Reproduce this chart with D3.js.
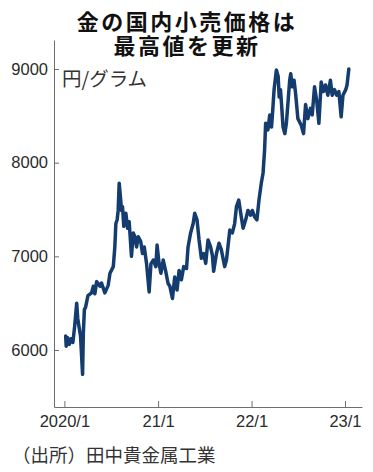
<!DOCTYPE html>
<html>
<head>
<meta charset="utf-8">
<script src="https://cdn.jsdelivr.net/npm/d3@7"></script>
<style>
  body { margin: 0; background: #fff; }
  svg { display: block; }
</style>
</head>
<body>
<svg width="373" height="472"></svg>
<script>
// 金の国内小売価格（円/グラム）
var dates = [
  "2020-01-06","2020-01-08","2020-01-14","2020-01-20","2020-01-27","2020-02-03","2020-02-10","2020-02-18",
  "2020-02-22","2020-02-27","2020-03-04","2020-03-12","2020-03-15","2020-03-19","2020-03-24","2020-04-02",
  "2020-04-16","2020-04-23","2020-04-29","2020-05-06","2020-05-19","2020-05-25","2020-06-07","2020-06-20",
  "2020-06-27","2020-07-10","2020-07-16","2020-07-20","2020-07-25","2020-07-29","2020-08-02","2020-08-08",
  "2020-08-11","2020-08-15","2020-08-20","2020-08-28","2020-09-04","2020-09-10","2020-09-19","2020-09-26",
  "2020-10-02","2020-10-09","2020-10-15","2020-10-25","2020-11-01","2020-11-08","2020-11-17","2020-11-27",
  "2020-12-04","2020-12-13","2020-12-23","2020-12-28","2021-01-05","2021-01-12","2021-01-21","2021-01-30",
  "2021-02-09","2021-02-16","2021-02-26","2021-03-07","2021-03-16","2021-03-24","2021-04-02","2021-04-11",
  "2021-04-22","2021-04-28","2021-05-08","2021-05-18","2021-05-24","2021-06-02","2021-06-10","2021-06-19",
  "2021-06-28","2021-07-06","2021-07-15","2021-07-25","2021-08-01","2021-08-06","2021-08-17","2021-08-27",
  "2021-09-05","2021-09-18","2021-09-25","2021-10-08","2021-10-18","2021-10-27","2021-11-03","2021-11-12",
  "2021-11-22","2021-11-29","2021-12-09","2021-12-18","2021-12-28","2022-01-04","2022-01-13","2022-01-22",
  "2022-01-30","2022-02-08","2022-02-15","2022-02-21","2022-02-25","2022-03-06","2022-03-13","2022-03-20",
  "2022-03-24","2022-03-30","2022-04-08","2022-04-15","2022-04-19","2022-04-24","2022-04-28","2022-05-04",
  "2022-05-11","2022-05-17","2022-05-23","2022-05-30","2022-06-03","2022-06-09","2022-06-16","2022-06-22",
  "2022-07-01","2022-07-14","2022-07-23","2022-07-31","2022-08-09","2022-08-19","2022-08-26","2022-09-04",
  "2022-09-13","2022-09-21","2022-09-30","2022-10-09","2022-10-17","2022-10-26","2022-11-05","2022-11-12",
  "2022-11-21","2022-11-30","2022-12-08","2022-12-17","2022-12-24","2023-01-04","2023-01-09","2023-01-16"
];
var prices = [
  6150,6040,6130,6060,6120,6080,6250,6500,
  6340,6250,6150,5740,6180,6430,6460,6580,
  6610,6680,6600,6730,6680,6715,6610,6690,
  6820,6890,7100,7350,7390,7490,7780,7600,
  7490,7530,7320,7460,7300,7370,7000,7250,
  7210,7100,7210,7160,7030,7100,6920,6620,
  6920,6960,6890,7120,6920,6820,6960,6850,
  6710,6680,6550,6780,6640,6850,6750,6890,
  6870,7100,7250,7350,7460,7390,7175,6980,
  7030,6925,7175,7100,7010,6840,7030,7140,
  7070,6890,6960,7280,7250,7350,7530,7600,
  7420,7300,7390,7490,7440,7490,7420,7390,
  7600,7780,7890,8140,8420,8350,8510,8380,
  8530,8780,8990,8920,8700,8780,8630,8380,
  8310,8420,8630,8880,8950,8810,8880,8740,
  8470,8400,8310,8620,8470,8580,8510,8810,
  8650,8420,8860,8760,8830,8720,8880,8720,
  8780,8720,8760,8490,8720,8780,8830,9000
];
var yTicks = [6000, 7000, 8000, 9000];
var xTicks = ["2020-01-01", "2021-01-01", "2022-01-01", "2023-01-01"];
var xTickLabels = ["2020/1", "21/1", "22/1", "23/1"];
var titleLines = ["金の国内小売価格は", "最高値を更新"];

var parse = d3.timeParse("%Y-%m-%d");
var data = dates.map(function(d, i) { return { date: parse(d), value: prices[i] }; });

var svg = d3.select("svg");

// x: 2020/1 tick at 64.4, 23/1 tick at 345, axis spans 54..362
var x = d3.scaleTime()
    .domain([parse(xTicks[0]), parse(xTicks[3])])
    .range([64.4, 345]);
x.domain([x.invert(54), x.invert(362)]).range([54, 362]);

// y: 9000 at 69, 6000 at 350, axis spans 40..407
var y = d3.scaleLinear()
    .domain([6000, 9000])
    .range([350, 69]);
y.domain([y.invert(407), y.invert(40)]).range([407, 40]);

var font = "'Liberation Sans', Arial, sans-serif";
var cjk = "'Noto Sans CJK JP', 'Noto Sans', sans-serif";

var gx = svg.append("g")
    .attr("transform", "translate(0,407)")
    .call(d3.axisBottom(x)
      .tickValues(xTicks.map(parse))
      .tickFormat(function(d, i) { return xTickLabels[i]; })
      .tickSizeInner(-6)
      .tickSizeOuter(0)
      .tickPadding(8));

var gy = svg.append("g")
    .attr("transform", "translate(54,0)")
    .call(d3.axisLeft(y)
      .tickValues(yTicks)
      .tickFormat(d3.format("d"))
      .tickSizeInner(-5)
      .tickSizeOuter(0)
      .tickPadding(6));

[gx, gy].forEach(function(g) {
  g.select(".domain").attr("stroke", "#6e6e6e");
  g.selectAll(".tick line").attr("stroke", "#6e6e6e");
  g.selectAll(".tick text")
    .attr("fill", "#2b2b2b")
    .style("font-family", font)
    .style("font-size", "16.5px");
});

var line = d3.line()
    .x(function(d) { return x(d.date); })
    .y(function(d) { return y(d.value); });

svg.append("path")
    .datum(data)
    .attr("fill", "none")
    .attr("stroke", "#153c6e")
    .attr("stroke-width", 3.5)
    .attr("stroke-linejoin", "round")
    .attr("stroke-linecap", "round")
    .attr("d", line);

// title, two lines
svg.selectAll(".title")
    .data(titleLines)
  .enter().append("text")
    .attr("class", "title")
    .attr("x", 187)
    .attr("y", function(d, i) { return 29.5 + i * 24.6; })
    .attr("text-anchor", "middle")
    .style("font-family", "'Liberation Sans', " + cjk).style("font-weight", "bold")
    .style("font-size", "22px").style("letter-spacing", "2.5px")
    .attr("fill", "#111")
    .text(function(d) { return d; });

// unit
svg.append("text")
    .attr("x", 62).attr("y", 86)
    .style("font-family", cjk).style("font-size", "19.5px")
    .attr("fill", "#333")
    .text("円/グラム");

// source
svg.append("text")
    .attr("x", 12).attr("y", 462)
    .style("font-family", cjk).style("font-size", "18.5px")
    .attr("fill", "#333")
    .text("（出所）田中貴金属工業");
</script>
</body>
</html>
